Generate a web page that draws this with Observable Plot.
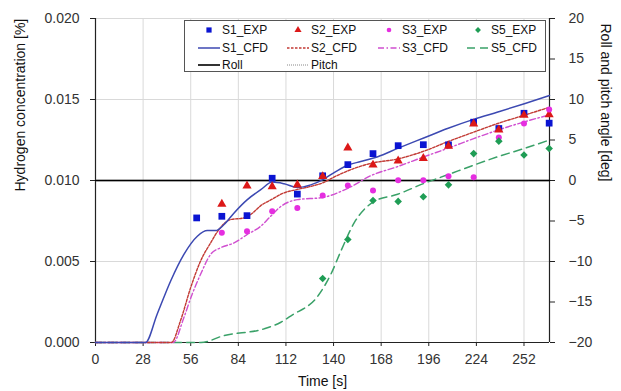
<!DOCTYPE html>
<html><head><meta charset="utf-8">
<script src="https://cdn.jsdelivr.net/npm/d3@7"></script>
<script src="https://cdn.jsdelivr.net/npm/@observablehq/plot@0.6"></script>
<style>body{margin:0;background:#fff;} #chart{width:621px;height:391px;}</style>
</head><body><div id="chart"></div>
<script>
// ---------- data ----------
const xDomain = [0, 267];
const xTicks = [0, 28, 56, 84, 112, 140, 168, 196, 224, 252];
const yTicks = [0, 0.005, 0.010, 0.015, 0.020];
const degTicks = [-20, -15, -10, -5, 0, 5, 10, 15, 20];

const tExp = [59.5, 74.3, 89.1, 103.9, 118.7, 133.6, 148.4, 163.2, 178.0, 192.8, 207.6, 222.4, 237.2, 252.0, 266.8];
const s1Exp = [0.00769, 0.00779, 0.00783, 0.01014, 0.00916, 0.01029, 0.01098, 0.01166, 0.01215, 0.01221, 0.01220, 0.01360, 0.01321, 0.01415, 0.01354];
const s2Exp = [null, 0.00855, 0.00967, 0.00963, 0.00973, 0.01025, 0.01202, 0.01096, 0.01121, 0.01137, 0.01213, 0.01350, 0.01313, 0.01403, 0.01407];
const s3Exp = [null, 0.00677, 0.00687, 0.00810, 0.00830, 0.00908, 0.00969, 0.00939, 0.01002, 0.01002, 0.01026, 0.01020, 0.01266, 0.01352, 0.01438];
const s5Exp = [null, null, null, null, null, 0.00395, 0.00636, 0.00877, 0.00871, 0.00900, 0.00973, 0.01166, 0.01243, 0.01157, 0.01197];

const s1CfdT = [0, 29.4, 36.3, 44.2, 52, 59.9, 65.8, 70.7, 75.6, 81.5, 89.3, 97.2, 104, 110.9, 118.8, 126.6, 133.5, 141.3, 148.6, 156, 166, 177.7, 193.4, 207, 222.8, 236.6, 252.2, 267];
const s1Cfd = [0, 0, 0.00176, 0.0038, 0.00544, 0.00656, 0.00691, 0.00691, 0.00728, 0.0080, 0.00882, 0.00943, 0.0099, 0.0098, 0.00957, 0.00973, 0.01004, 0.01055, 0.01096, 0.01117, 0.01147, 0.01198, 0.01264, 0.01321, 0.01379, 0.01423, 0.01474, 0.01525];

const s2CfdT = [0, 44.6, 50, 56, 61.8, 67.7, 72.6, 79.5, 87.3, 91.3, 97.2, 104, 110, 118.8, 126, 133.5, 141, 148.5, 162, 177.7, 193.4, 207, 222.8, 236.6, 252.2, 267];
const s2Cfd = [0, 0, 0.00135, 0.0034, 0.00503, 0.00615, 0.00697, 0.00759, 0.00769, 0.0079, 0.00845, 0.00885, 0.0092, 0.00945, 0.00962, 0.00985, 0.01025, 0.0106, 0.01106, 0.01133, 0.01182, 0.01239, 0.0130, 0.01352, 0.01403, 0.01452];

const s3CfdT = [0, 45.7, 52, 56.9, 61.8, 67.7, 73.6, 81.5, 89.3, 97.2, 103, 109, 118.8, 133.5, 148.6, 162, 177.7, 193.4, 207, 222.8, 236.6, 252.2, 267];
const s3Cfd = [0, 0, 0.00155, 0.0030, 0.00421, 0.00544, 0.00585, 0.00615, 0.00667, 0.00718, 0.00779, 0.0084, 0.00882, 0.00895, 0.00953, 0.0103, 0.01086, 0.01147, 0.01198, 0.0126, 0.01311, 0.01362, 0.01405];

const s5CfdT = [0, 62, 75.6, 99, 109, 115, 131, 138.4, 144.3, 152.1, 163.9, 177.7, 193.4, 207, 222.8, 236.6, 252.2, 267];
const s5Cfd = [0, 0, 0.00043, 0.00084, 0.00125, 0.00165, 0.0029, 0.00421, 0.00564, 0.00738, 0.00871, 0.00915, 0.00983, 0.01035, 0.01096, 0.01147, 0.01198, 0.0125];

const angleT = [0, 267];
const rollDeg = [0, 0];
const pitchDeg = [0, 0];

// ---------- helpers ----------
const FONT = "'Liberation Sans', Arial, sans-serif";
const toConc = d => 0.01 + d / 2000;
const rows = (t, c) => t.map((x, i) => ({t: x, c: c[i]})).filter(d => d.c != null);
const fmtDeg = v => { const r = Math.round(v); return r < 0 ? "\u2212" + Math.abs(r) : String(r); };

const C = {
  s1m: "#0a14d2", s1l: "#3c49b2",
  s2m: "#dc1818", s2l: "#c23a34",
  s3m: "#e52ee0", s3l: "#d04fd0",
  s5m: "#1f9d55", s5l: "#3aa168"
};
const STY = {
  s1: {stroke: C.s1l, strokeWidth: 1.5},
  s2: {stroke: C.s2l, strokeWidth: 1.4, strokeDasharray: "2.5,1.5"},
  s3: {stroke: C.s3l, strokeWidth: 1.4, strokeDasharray: "6,2.5,1.5,2.5"},
  s5: {stroke: C.s5l, strokeWidth: 1.5, strokeDasharray: "8,5"}
};
const SYM = {s1: ["square", 3.8], s2: ["triangle", 3.4], s3: ["circle", 3.0], s5: ["diamond2", 3.4]};

const chart = Plot.plot({
  width: 621, height: 391,
  marginLeft: 95, marginRight: 72, marginTop: 18, marginBottom: 49,
  style: {fontFamily: FONT, fontSize: "14px", color: "#333", background: "#fff"},
  x: {domain: xDomain},
  y: {domain: [yTicks[0], yTicks[yTicks.length - 1]]},
  marks: [
    Plot.ruleX(xTicks.slice(1), {stroke: "#d9d9d9"}),
    Plot.ruleY(yTicks.slice(1), {stroke: "#d9d9d9"}),
    Plot.ruleX([xDomain[0]], {stroke: "#222", strokeWidth: 1.2}),
    Plot.ruleX([xDomain[1]], {stroke: "#222", strokeWidth: 1.2}),
    Plot.ruleY([yTicks[0]], {stroke: "#222", strokeWidth: 1.2}),
    Plot.axisX(xTicks, {tickSize: 4, tickPadding: 8, label: null, stroke: "#222"}),
    Plot.axisY(yTicks, {anchor: "left", tickFormat: d3.format(".3f"), tickSize: 5, tickPadding: 11, label: null, stroke: "#222"}),
    Plot.axisY(degTicks.map(toConc), {anchor: "right", tickFormat: v => fmtDeg((v - 0.01) * 2000), tickSize: 5, tickPadding: 14, label: null, stroke: "#222"}),
    Plot.line(rows(angleT, pitchDeg.map(toConc)), {x: "t", y: "c", stroke: "#888", strokeDasharray: "1,1"}),
    Plot.line(rows(angleT, rollDeg.map(toConc)), {x: "t", y: "c", stroke: "#000", strokeWidth: 1.6}),
    Plot.line(rows(s5CfdT, s5Cfd), {x: "t", y: "c", curve: "monotone-x", ...STY.s5}),
    Plot.line(rows(s3CfdT, s3Cfd), {x: "t", y: "c", curve: "monotone-x", ...STY.s3}),
    Plot.line(rows(s2CfdT, s2Cfd), {x: "t", y: "c", curve: "monotone-x", ...STY.s2}),
    Plot.line(rows(s1CfdT, s1Cfd), {x: "t", y: "c", curve: "monotone-x", ...STY.s1}),
    Plot.dot(rows(tExp, s1Exp), {x: "t", y: "c", symbol: SYM.s1[0], r: SYM.s1[1], fill: C.s1m}),
    Plot.dot(rows(tExp, s2Exp), {x: "t", y: "c", symbol: SYM.s2[0], r: SYM.s2[1], fill: C.s2m}),
    Plot.dot(rows(tExp, s3Exp), {x: "t", y: "c", symbol: SYM.s3[0], r: SYM.s3[1], fill: C.s3m}),
    Plot.dot(rows(tExp, s5Exp), {x: "t", y: "c", symbol: SYM.s5[0], r: SYM.s5[1], fill: C.s5m}),
    Plot.text(["Time [s]"], {frameAnchor: "bottom", dy: 39, lineAnchor: "middle", fill: "#111", fontSize: 14}),
    Plot.text(["Hydrogen concentration [%]"], {frameAnchor: "left", dx: -75, dy: 11, rotate: -90, lineAnchor: "middle", fill: "#111", fontSize: 14}),
    Plot.text(["Roll and pitch angle [deg]"], {frameAnchor: "right", dx: 56, dy: 1, rotate: 90, lineAnchor: "middle", fill: "#111", fontSize: 14})
  ]
});
document.getElementById("chart").appendChild(chart);

// ---------- legend (inside plot, top right) ----------
const svg = d3.select(chart);
const lg = svg.append("g").attr("font-family", FONT).attr("font-size", 12).attr("fill", "#111").attr("text-anchor", "start");
lg.append("rect").attr("x", 184.5).attr("y", 20.5).attr("width", 361).attr("height", 51)
  .attr("fill", "#fff").attr("stroke", "#555");
const colX = [198, 287, 378, 467];
const rowY = [30, 48, 65];
const symMap = {square: d3.symbolSquare, triangle: d3.symbolTriangle, circle: d3.symbolCircle, diamond2: d3.symbolDiamond2};
const items = [
  {label: "S1_EXP", col: 0, row: 0, key: "s1", kind: "dot"},
  {label: "S2_EXP", col: 1, row: 0, key: "s2", kind: "dot"},
  {label: "S3_EXP", col: 2, row: 0, key: "s3", kind: "dot"},
  {label: "S5_EXP", col: 3, row: 0, key: "s5", kind: "dot"},
  {label: "S1_CFD", col: 0, row: 1, key: "s1", kind: "line"},
  {label: "S2_CFD", col: 1, row: 1, key: "s2", kind: "line"},
  {label: "S3_CFD", col: 2, row: 1, key: "s3", kind: "line"},
  {label: "S5_CFD", col: 3, row: 1, key: "s5", kind: "line"},
  {label: "Roll", col: 0, row: 2, kind: "line", style: {stroke: "#000", strokeWidth: 1.6}},
  {label: "Pitch", col: 1, row: 2, kind: "line", style: {stroke: "#888", strokeWidth: 1, strokeDasharray: "1,1"}}
];
const mColor = {s1: C.s1m, s2: C.s2m, s3: C.s3m, s5: C.s5m};
items.forEach(it => {
  const x0 = colX[it.col], y = rowY[it.row];
  if (it.kind === "dot") {
    const [name, r] = SYM[it.key];
    lg.append("path").attr("transform", `translate(${x0 + 11},${y})`)
      .attr("d", d3.symbol(symMap[name], Math.PI * r * r * 0.6)())
      .attr("fill", mColor[it.key]);
  } else {
    const s = it.style || STY[it.key];
    lg.append("line").attr("x1", x0).attr("x2", x0 + 22).attr("y1", y).attr("y2", y)
      .attr("stroke", s.stroke).attr("stroke-width", s.strokeWidth)
      .attr("stroke-dasharray", s.strokeDasharray || null);
  }
  lg.append("text").attr("x", x0 + 24).attr("y", y).attr("dy", "0.35em").attr("text-anchor", "start").text(it.label);
});
</script></body></html>
